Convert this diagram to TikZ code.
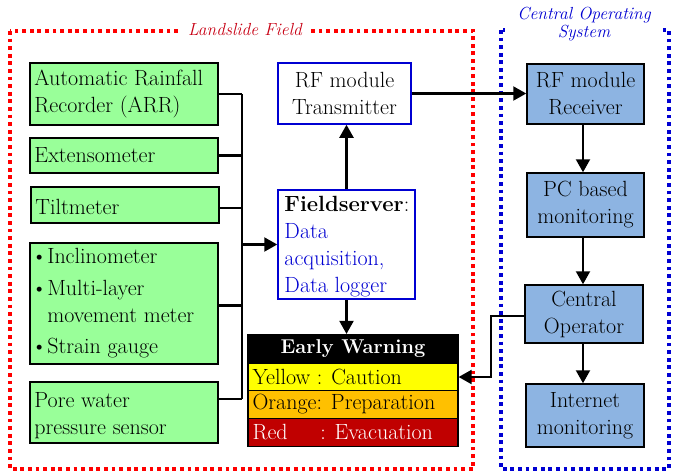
\documentclass[tikz,border=0pt]{standalone}
\usetikzlibrary{arrows.meta}
\definecolor{sgreen}{RGB}{153,255,153}
\definecolor{cblue}{RGB}{141,180,226}
\definecolor{bblue}{RGB}{0,0,210}
\definecolor{ewyellow}{RGB}{255,255,0}
\definecolor{eworange}{RGB}{255,192,0}
\definecolor{ewred}{RGB}{192,0,0}
\definecolor{dred}{RGB}{200,0,20}
\newcommand\mfs{\fontsize{22}{27}\selectfont}
\newcommand\hfs{\fontsize{20}{24}\selectfont}
\newcommand\tfs{\fontsize{17.5}{19}\selectfont}
\begin{document}
\begin{tikzpicture}[x=1pt,y=-1pt,
  gbox/.style={draw=black, line width=1.5pt, fill=sgreen, inner sep=0pt},
  gtxt/.style={anchor=west, align=left, inner sep=0pt, font=\mfs},
  wbox/.style={draw=bblue, line width=1.5pt, fill=white, inner sep=0pt, align=center, font=\mfs},
  cbox/.style={draw=black, line width=1.5pt, fill=cblue, inner sep=0pt, align=center, font=\mfs},
  ewrow/.style={draw=black, line width=1.2pt, inner sep=0pt, minimum width=210, minimum height=28},
  conn/.style={draw=black, line width=2.1pt},
  arr/.style={conn, -{Triangle[length=13pt,width=14pt]}},
  dotbox/.style={line width=3.8pt, dash pattern=on 3.8pt off 3.8pt},
]
\useasboundingbox (0,0) rectangle (673,475);

% dotted frames
\draw[dotbox, red] (10,31) rectangle (473,469);
\draw[dotbox, bblue] (501,30) rectangle (669,469);
\node[fill=white, inner xsep=8pt, inner ysep=4pt, text=dred, font=\tfs\itshape] (lftitle) at (245,30) {Landslide Field};
\node[fill=white, minimum width=158, inner sep=1pt, align=center, text=bblue, font=\tfs\itshape] (costitle) at (584,24) {Central Operating\\[-1pt]System};

% sensor boxes
\node[gbox, minimum width=188, minimum height=62] (arr) at (124,94) {};
\node[gtxt] (arrt) at ([xshift=5]arr.west) {Automatic~Rainfall\\Recorder (ARR)};
\node[gbox, minimum width=188, minimum height=35] (ext) at (124,155.5) {};
\node[gtxt] (extt) at ([xshift=5]ext.west) {Extensometer};
\node[gbox, minimum width=188, minimum height=36] (tilt) at (125,205) {};
\node[gtxt] (tiltt) at ([xshift=5,yshift=-2]tilt.west) {Tiltmeter};
\node[gbox, minimum width=188, minimum height=121] (bul) at (124,303.5) {};
\node[gtxt] (bult) at ([xshift=2]bul.west) {\textbullet Inclinometer\\[5pt]\textbullet Multi-layer\\\hphantom{\textbullet}movement meter\\[4pt]\textbullet Strain gauge};
\node[gbox, minimum width=188, minimum height=61] (pore) at (124,412.5) {};
\node[gtxt] (poret) at ([xshift=5,yshift=-3]pore.west) {Pore water\\pressure sensor};

% bus
\coordinate (busT) at (242,94);
\coordinate (busB) at (242,399);
\draw[conn] (busT) -- (busB);
\draw[conn] (arr.east) -- (busT);
\draw[conn] (ext.east) -- (ext.east -| busT);
\draw[conn] ([yshift=-3]tilt.east) -- ([yshift=-3]tilt.east -| busT);
\draw[conn] ([yshift=-2]bul.east) -- ([yshift=-2]bul.east -| busT);
\draw[conn] (pore.east |- busB) -- (busB);

% field server & transmitter
\node[wbox, minimum width=137, minimum height=109] (fs) at (346.5,244.5) {};
\node[gtxt] (fst) at ([xshift=7,yshift=-2]fs.west) {\textbf{Fieldserver}:\\\textcolor{bblue}{Data}\\\textcolor{bblue}{acquisition,}\\\textcolor{bblue}{Data logger}};
\node[wbox, minimum width=133, minimum height=61] (tx) at (344.5,93.5) {RF module\\Transmitter};
\draw[arr] (fs.west -| busT) -- (fs.west);
\draw[arr] (fs.north) -- (fs.north |- tx.south);

% early warning
\node[ewrow, fill=black, text=white, font=\hfs\bfseries] (ewh) at (353,348.5) {Early Warning};
\node[ewrow, fill=ewyellow] (ewy) at (353,377) {};
\node[ewrow, fill=eworange] (ewo) at (353,404.5) {};
\node[ewrow, fill=ewred] (ewr) at (353,432.5) {};
\node[gtxt] (ewyt) at ([xshift=5]ewy.west) {Yellow : Caution};
\node[gtxt] (ewot) at ([xshift=5]ewo.west) {Orange: Preparation};
\node[gtxt, text=white] (ewrt) at ([xshift=5]ewr.west) {\rlap{Red}\hphantom{Orange}\,: Evacuation};
\draw[arr] (fs.south) -- (fs.south |- ewh.north);

% central operating system
\node[cbox, minimum width=117, minimum height=60] (rx) at (585.5,94) {RF module\\Receiver};
\node[cbox, minimum width=117, minimum height=64] (pc) at (585.5,205) {PC based\\monitoring};
\node[cbox, minimum width=118, minimum height=58] (co) at (584,314) {Central\\Operator};
\node[cbox, minimum width=118, minimum height=63] (inet) at (585,415.5) {Internet\\monitoring};
\draw[arr] (tx.east) -- (tx.east -| rx.west);
\draw[arr] (rx.south -| 583,0) -- (pc.north -| 583,0);
\draw[arr] (pc.south -| 583,0) -- (co.north -| 583,0);
\draw[arr] (co.south -| 583,0) -- (inet.north -| 583,0);
\draw[arr] ([yshift=-2]co.west) -- ++(-33,0) |- (ewy.east);
\end{tikzpicture}
\end{document}
